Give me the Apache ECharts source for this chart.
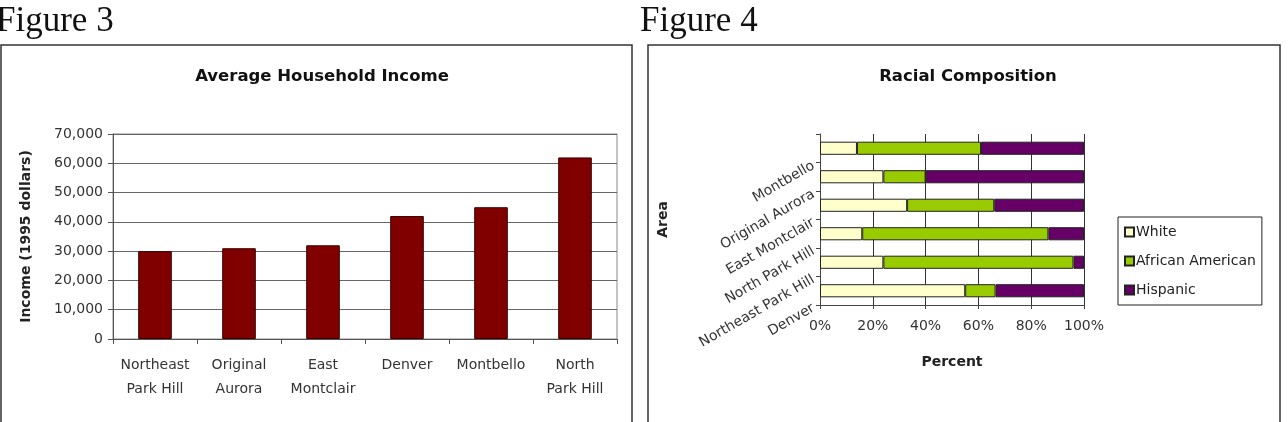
<!DOCTYPE html>
<html style="height: 100%">
<head>
    <meta charset="utf-8" />
    <title>Figures 3 and 4</title>
    <script type="text/javascript" src="https://cdn.jsdelivr.net/npm/echarts@6/dist/echarts.min.js"></script>
</head>
<body style="height: 100%; margin: 0; background: #fff">
<div id="main" style="width: 1288px; height: 422px"></div>
<script type="text/javascript">
      // Figure 3 - income
      var incomeAreas = ["Northeast\nPark Hill", "Original\nAurora", "East\nMontclair", "Denver", "Montbello", "North\nPark Hill"];
      var incomeValues = [30000, 31000, 32000, 42000, 45000, 62000];
      var incomeTicks = [0, 10000, 20000, 30000, 40000, 50000, 60000, 70000];

      // Figure 4 - racial composition (bottom to top)
      var raceAreas = ["Denver", "Northeast Park Hill", "North Park Hill", "East Montclair", "Original Aurora", "Montbello"];
      var whitePct = [55, 24, 16, 33, 24, 14];
      var blackPct = [11.5, 72, 70.5, 33, 16, 47];
      var hispanicPct = [33.5, 4, 13.5, 34, 60, 39];
      var pctTicks = [0, 20, 40, 60, 80, 100];

      var font = "DejaVu Sans, Liberation Sans, sans-serif";
      var myChart = echarts.init(document.getElementById("main"));

      var option = {
        animation: false,
        backgroundColor: "#fff",
        textStyle: { fontFamily: font },
        graphic: [
          { type: "rect", shape: { x: 1, y: 45, width: 631, height: 400 }, style: { fill: "none", stroke: "#333", lineWidth: 1.5 } },
          { type: "rect", shape: { x: 648, y: 45, width: 632, height: 400 }, style: { fill: "none", stroke: "#333", lineWidth: 1.5 } },
          { type: "text", left: -4, top: 4, style: { text: "Figure 3", font: "35px Liberation Serif, serif", fill: "#111" } },
          { type: "text", left: 640, top: 4, style: { text: "Figure 4", font: "35px Liberation Serif, serif", fill: "#111" } }
        ],
        title: [
          { text: "Average Household Income", left: 317, top: 63, textAlign: "center",
            textStyle: { fontFamily: font, fontSize: 16.5, fontWeight: "bold", color: "#111" } },
          { text: "Racial Composition", left: 963, top: 63, textAlign: "center",
            textStyle: { fontFamily: font, fontSize: 16.5, fontWeight: "bold", color: "#111" } }
        ],
        legend: {
          data: ["White", "African American", "Hispanic"],
          orient: "vertical",
          left: 1118, top: 217,
          padding: [8, 6, 8, 6],
          itemGap: 15,
          itemWidth: 9, itemHeight: 9,
          icon: "rect",
          borderColor: "#222", borderWidth: 1,
          textStyle: { fontFamily: font, fontSize: 14, color: "#222", padding: [0, 8, 0, -3] }
        },
        grid: [
          { left: 113, top: 134, width: 504, height: 205, show: true, borderColor: "#888", borderWidth: 1 },
          { left: 820, top: 134, width: 264, height: 171, show: false }
        ],
        xAxis: [
          {
            gridIndex: 0, type: "category", data: incomeAreas,
            axisLine: { lineStyle: { color: "#555" } },
            axisTick: { show: true, length: 5, interval: 0, lineStyle: { color: "#555" } },
            axisLabel: { fontFamily: font, fontSize: 14, color: "#333", lineHeight: 24, margin: 14, interval: 0 }
          },
          {
            gridIndex: 1, type: "value", min: pctTicks[0], max: pctTicks[pctTicks.length - 1], interval: 20,
            name: "Percent", nameLocation: "middle", nameGap: 50,
            nameTextStyle: { fontFamily: font, fontSize: 14, fontWeight: "bold", color: "#222" },
            axisLine: { show: true, lineStyle: { color: "#444" } },
            axisTick: { show: true, length: 4, lineStyle: { color: "#444" } },
            splitLine: { show: true, lineStyle: { color: "#333" } },
            axisLabel: { fontFamily: font, fontSize: 14, color: "#333", formatter: "{value}%", margin: 14 }
          }
        ],
        yAxis: [
          {
            gridIndex: 0, type: "value", min: incomeTicks[0], max: incomeTicks[incomeTicks.length - 1], interval: 10000,
            name: "Income (1995 dollars)", nameLocation: "middle", nameGap: 80, nameRotate: 90,
            nameTextStyle: { fontFamily: font, fontSize: 14, fontWeight: "bold", color: "#222" },
            axisLine: { show: true, lineStyle: { color: "#555" } },
            axisTick: { show: true, length: 5, inside: false, lineStyle: { color: "#555" } },
            splitLine: { lineStyle: { color: "#666" } },
            axisLabel: {
              fontFamily: font, fontSize: 14, color: "#333", margin: 10,
              formatter: function (v) { return v.toLocaleString("en-US"); }
            }
          },
          {
            gridIndex: 1, type: "category", data: raceAreas,
            name: "Area", nameLocation: "middle", nameGap: 150, nameRotate: 90,
            nameTextStyle: { fontFamily: font, fontSize: 14, fontWeight: "bold", color: "#222" },
            axisLine: { show: true, lineStyle: { color: "#444" } },
            axisTick: { show: true, length: 4, interval: 0, lineStyle: { color: "#444" } },
            axisLabel: { fontFamily: font, fontSize: 14, color: "#333", rotate: 30, margin: 16, interval: 0,
              verticalAlign: "top", padding: [12, 0, 0, 0] }
          }
        ],
        series: [
          {
            name: "Income", type: "bar", xAxisIndex: 0, yAxisIndex: 0,
            data: incomeValues, barWidth: "40%",
            itemStyle: { color: "#800000", borderColor: "#3a0000", borderWidth: 1 }
          },
          {
            name: "White", type: "bar", stack: "race", xAxisIndex: 1, yAxisIndex: 1,
            data: whitePct, barWidth: "46%",
            itemStyle: { color: "#ffffcc", borderColor: "#222", borderWidth: 1 }
          },
          {
            name: "African American", type: "bar", stack: "race", xAxisIndex: 1, yAxisIndex: 1,
            data: blackPct, barWidth: "46%",
            itemStyle: { color: "#99cc00", borderColor: "#222", borderWidth: 1 }
          },
          {
            name: "Hispanic", type: "bar", stack: "race", xAxisIndex: 1, yAxisIndex: 1,
            data: hispanicPct, barWidth: "46%",
            itemStyle: { color: "#660066", borderColor: "#222", borderWidth: 1 }
          }
        ]
      };
      myChart.setOption(option);
      window.addEventListener("resize", function () {
        myChart.resize();
      });
    </script>
</body>
</html>
